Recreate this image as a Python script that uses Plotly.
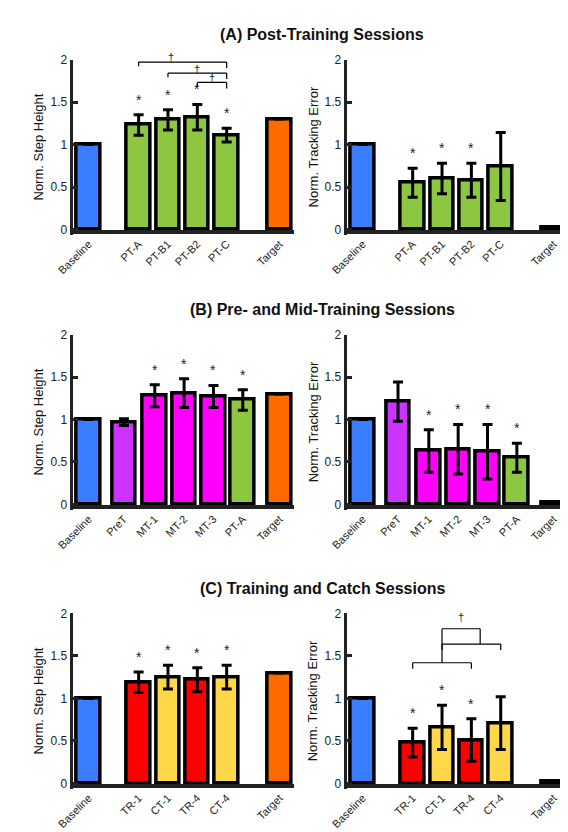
import plotly.graph_objects as go

BLUE="#3a7dff"; GREEN="#8dc641"; ORANGE="#ff6a00"; PURPLE="#cc33ff"; MAG="#ff00ff"; RED="#ff0000"; YEL="#ffd84a"

cats_A=["Baseline","PT-A","PT-B1","PT-B2","PT-C","Target"]
pos_A=[0,1.7,2.7,3.7,4.7,6.5]
col_A=[BLUE,GREEN,GREEN,GREEN,GREEN,ORANGE]
h_A=[1,1.23,1.29,1.32,1.11,1.3]; he_A=[0,0.12,0.12,0.15,0.08,0]
t_A=[1,0.55,0.60,0.58,0.74,0.02]; te_A=[0,0.17,0.18,0.20,0.40,0]
hs_A=[0,1,1,1,1,0]; ts_A=[0,1,1,1,0,0]

cats_B=["Baseline","PreT","MT-1","MT-2","MT-3","PT-A","Target"]
pos_B=[0,1.2,2.25,3.25,4.25,5.25,6.5]
col_B=[BLUE,PURPLE,MAG,MAG,MAG,GREEN,ORANGE]
h_B=[1,0.97,1.28,1.31,1.27,1.23,1.3]; he_B=[0,0.04,0.13,0.17,0.13,0.12,0]
t_B=[1,1.21,0.63,0.65,0.62,0.55,0.02]; te_B=[0,0.23,0.25,0.29,0.32,0.17,0]
hs_B=[0,0,1,1,1,1,0]; ts_B=[0,0,1,1,1,1,0]

cats_C=["Baseline","TR-1","CT-1","TR-4","CT-4","Target"]
pos_C=[0,1.7,2.7,3.7,4.7,6.5]
col_C=[BLUE,RED,YEL,RED,YEL,ORANGE]
h_C=[1,1.19,1.25,1.22,1.25,1.3]; he_C=[0,0.12,0.14,0.14,0.14,0]
t_C=[1,0.48,0.66,0.51,0.71,0.02]; te_C=[0,0.17,0.26,0.25,0.31,0]
hs_C=[0,1,1,1,1,0]; ts_C=[0,1,1,1,0,0]

titles=["(A) Post-Training Sessions","(B) Pre- and Mid-Training Sessions","(C) Training and Catch Sessions"]
FONT="Liberation Sans, Arial, sans-serif"
fig=go.Figure()
W,H=568,832
xdom=[[50/W,278/W],[332/W,560/W]]
ytops=[45,323,605]; ph=177
panels=[(cats_A,pos_A,col_A,[(h_A,he_A,hs_A),(t_A,te_A,ts_A)]),
        (cats_B,pos_B,col_B,[(h_B,he_B,hs_B),(t_B,te_B,ts_B)]),
        (cats_C,pos_C,col_C,[(h_C,he_C,hs_C),(t_C,te_C,ts_C)])]
ylabels=["Norm. Step Height","Norm. Tracking Error"]
shapes=[]; anns=[]
k=0
for r,(cats,pos,cols,series) in enumerate(panels):
    y0=1-(ytops[r]+ph)/H; y1=1-ytops[r]/H
    anns.append(dict(text="<b>"+titles[r]+"</b>",x=0.54,y=1-(ytops[r]-25)/H,xref="paper",yref="paper",
                     showarrow=False,font=dict(size=16,color="#111",family=FONT),yanchor="middle"))
    for c,(vals,errs,stars) in enumerate(series):
        k+=1
        xa="xaxis" if k==1 else f"xaxis{k}"; ya="yaxis" if k==1 else f"yaxis{k}"
        xr="x" if k==1 else f"x{k}"; yr="y" if k==1 else f"y{k}"
        fig.add_trace(go.Bar(x=pos,y=vals,width=0.8,marker=dict(color=cols,line=dict(color="black",width=3.5)),
            error_y=dict(type="data",array=errs,visible=True,color="black",thickness=3,width=5),
            xaxis=xr,yaxis=yr,showlegend=False))
        fig.layout[xa]=dict(domain=xdom[c],anchor=yr,range=[-0.55,7.0],tickvals=pos,ticktext=cats,
            tickangle=-45,showgrid=False,zeroline=False,showline=False,ticks="",
            tickfont=dict(size=11,family=FONT,color="#222"))
        fig.layout[ya]=dict(domain=[y0,y1],anchor=xr,range=[-0.06,2.0],tickvals=[0,0.5,1,1.5,2],
            ticktext=["0","0.5","1","1.5","2"],showgrid=False,zeroline=False,showline=True,linewidth=3,
            linecolor="#222",ticks="inside",ticklen=5,tickwidth=3,tickcolor="#222",
            tickfont=dict(size=12,family=FONT,color="#222"),
            title=dict(text=ylabels[c],font=dict(size=13,family=FONT,color="#111"),standoff=4))
        shapes.append(dict(type="line",xref=xr,yref=yr,x0=-0.55,x1=7.0,y0=-0.03,y1=-0.03,line=dict(color="#222",width=4)))
        for p,v,e,s in zip(pos,vals,errs,stars):
            if s:
                anns.append(dict(text="*",x=p,y=v+e+0.06,xref=xr,yref=yr,showarrow=False,yanchor="bottom",
                                 font=dict(size=14,color="#222",family=FONT)))

def ln(xr,yr,x0,y0,x1,y1):
    shapes.append(dict(type="line",xref=xr,yref=yr,x0=x0,x1=x1,y0=y0,y1=y1,line=dict(color="black",width=1.2)))
def dag(xr,yr,x,y):
    anns.append(dict(text="†",x=x,y=y,xref=xr,yref=yr,showarrow=False,yanchor="bottom",font=dict(size=11,color="#222",family=FONT)))

# panel A left brackets
for i,yb in zip([1,2,3],[1.97,1.84,1.73]):
    a=pos_A[i]; b=pos_A[4]
    ln("x","y",a,yb,b,yb); ln("x","y",a,yb,a,yb-0.05); ln("x","y",b,yb,b,yb-0.07)
    dag("x","y",(a+b)/2-0.4 if i==1 else (a+b)/2,yb-0.04)
# panel C right brackets
xr,yr="x6","y6"
a,b=pos_C[1],pos_C[3]; ln(xr,yr,a,1.42,b,1.42); ln(xr,yr,a,1.42,a,1.35); ln(xr,yr,b,1.42,b,1.35)
c,d=pos_C[2],pos_C[4]; ln(xr,yr,c,1.64,d,1.64); ln(xr,yr,c,1.64,c,1.57); ln(xr,yr,d,1.64,d,1.57)
m1=(a+b)/2; m2=(c+d)/2+0.3
ln(xr,yr,m1,1.82,m2,1.82); ln(xr,yr,m1,1.82,m1,1.42); ln(xr,yr,m2,1.82,m2,1.64)
dag(xr,yr,(m1+m2)/2,1.86)

fig.update_layout(width=W,height=H,margin=dict(l=0,r=0,t=0,b=0),plot_bgcolor="white",paper_bgcolor="white",
                  shapes=shapes,annotations=anns,bargap=0)
fig.write_html("out.html")
